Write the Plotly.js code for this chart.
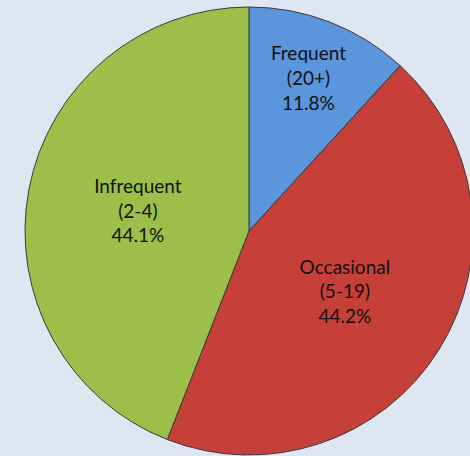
<!DOCTYPE html>
<html>
<head>
<meta charset="utf-8">
<script src="https://cdn.plot.ly/plotly-3.0.1.min.js"></script>
<style>
html,body{margin:0;padding:0;overflow:hidden;background:#dde6f1;}
#chart{width:476px;height:456px;}
</style>
</head>
<body>
<div id="chart"></div>
<script>
const categories = ["Frequent", "Occasional", "Infrequent"];
const ranges = ["20+", "5-19", "2-4"];
const shares = [11.8, 44.2, 44.1];
const colors = ["#5b95db", "#c63f38", "#9cbf49"];

Plotly.newPlot("chart", [{
  type: "pie",
  labels: categories,
  values: shares,
  customdata: ranges,
  sort: false,
  direction: "clockwise",
  rotation: 0,
  texttemplate: "%{label}<br>(%{customdata})<br>%{value:.1f}%",
  textposition: "inside",
  insidetextorientation: "horizontal",
  textfont: {family: "Lato, 'Open Sans', sans-serif", size: 19, color: "#111"},
  marker: {colors: colors, line: {color: "#3a3a3a", width: 1}},
  hoverinfo: "none"
}], {
  width: 476,
  height: 456,
  margin: {l: 25, r: 3, t: 7, b: 1},
  paper_bgcolor: "#dde6f1",
  showlegend: false
}, {displayModeBar: false, staticPlot: true});
</script>
</body>
</html>
